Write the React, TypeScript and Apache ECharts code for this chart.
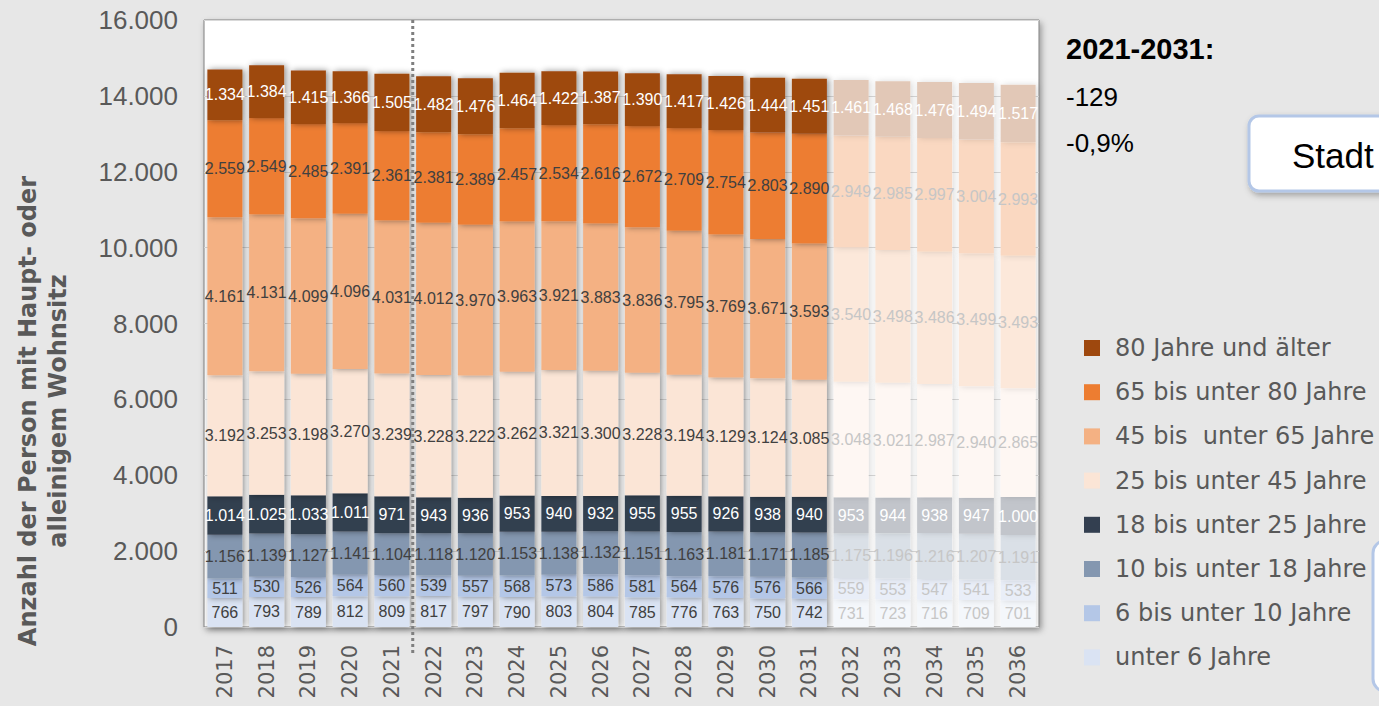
import React, { useEffect, useRef } from "react";
import * as echarts from "echarts";

const years = ["2017","2018","2019","2020","2021","2022","2023","2024","2025","2026","2027","2028","2029","2030","2031","2032","2033","2034","2035","2036"];

// stacking order: bottom to top
const ageGroups = [
  "unter 6 Jahre",
  "6 bis unter 10 Jahre",
  "10 bis unter 18 Jahre",
  "18 bis unter 25 Jahre",
  "25 bis unter 45 Jahre",
  "45 bis  unter 65 Jahre",
  "65 bis unter 80 Jahre",
  "80 Jahre und älter",
];
const colors = ["#DAE3F3", "#B4C7E7", "#8497B0", "#333F50", "#FBE5D6", "#F4B183", "#ED7D31", "#9E480E"];
const labelColors = ["#404040", "#404040", "#404040", "#FFFFFF", "#404040", "#404040", "#404040", "#FFFFFF"];

const under6 = [766,793,789,812,809,817,797,790,803,804,785,776,763,750,742,731,723,716,709,701];
const age6to10 = [511,530,526,564,560,539,557,568,573,586,581,564,576,576,566,559,553,547,541,533];
const age10to18 = [1156,1139,1127,1141,1104,1118,1120,1153,1138,1132,1151,1163,1181,1171,1185,1175,1196,1216,1207,1191];
const age18to25 = [1014,1025,1033,1011,971,943,936,953,940,932,955,955,926,938,940,953,944,938,947,1000];
const age25to45 = [3192,3253,3198,3270,3239,3228,3222,3262,3321,3300,3228,3194,3129,3124,3085,3048,3021,2987,2940,2865];
const age45to65 = [4161,4131,4099,4096,4031,4012,3970,3963,3921,3883,3836,3795,3769,3671,3593,3540,3498,3486,3499,3493];
const age65to80 = [2559,2549,2485,2391,2361,2381,2389,2457,2534,2616,2672,2709,2754,2803,2890,2949,2985,2997,3004,2993];
const age80plus = [1334,1384,1415,1366,1505,1482,1476,1464,1422,1387,1390,1417,1426,1444,1451,1461,1468,1476,1494,1517];

const seriesValues = [under6, age6to10, age10to18, age18to25, age25to45, age45to65, age65to80, age80plus];

const forecastFromYear = "2032";
const dividerBetween = ["2021", "2022"];

const yMin = 0;
const yMax = 16000;
const yInterval = 2000;

const summaryTitle = "2021-2031:";
const summaryAbs = "-129";
const summaryPct = "-0,9%";
const boxText = "Stadt";
const yTitle = "Anzahl der Person mit Haupt- oder\nalleinigem Wohnsitz";

const fmt = (n: number) => String(n).replace(/\B(?=(\d{3})+(?!\d))/g, ".");

// mix a colour with white (as if seen through a white veil)
const fade = (hex: string, keep: number) => {
  const h = hex.replace("#", "");
  const c = [0, 2, 4].map((i) => parseInt(h.slice(i, i + 2), 16));
  const m = c.map((v) => Math.round(v * keep + 255 * (1 - keep)));
  return "rgb(" + m.join(",") + ")";
};

export default function App() {
  const ref = useRef<HTMLDivElement>(null);

  useEffect(() => {
    if (!ref.current) return;
    const chart = echarts.init(ref.current, null, { renderer: "svg" });
    const forecastIdx = years.indexOf(forecastFromYear);

    const series = ageGroups.map((name, si) => ({
      name,
      type: "bar",
      stack: "total",
      barWidth: 35,
      itemStyle: {
        color: colors[si],
        shadowBlur: 6,
        shadowOffsetX: 2,
        shadowColor: "rgba(0,0,0,0.45)",
      },
      label: {
        show: true,
        position: "inside",
        fontFamily: "Liberation Sans",
        fontSize: 16,
        color: labelColors[si],
        formatter: (p: any) => fmt(p.value),
      },
      data: seriesValues[si].map((v, i) =>
        i >= forecastIdx
          ? {
              value: v,
              itemStyle: { color: fade(colors[si], 0.3), shadowColor: "rgba(0,0,0,0.14)" },
              label: { color: labelColors[si] === "#FFFFFF" ? "#FFFFFF" : "#C6C6C6" },
            }
          : v
      ),
    }));

    const legendData = ageGroups.slice().reverse();

    chart.setOption({
      animation: false,
      backgroundColor: "#E7E7E7",
      grid: {
        left: 204,
        right: 340,
        top: 20,
        bottom: 79,
        show: true,
        backgroundColor: "#FFFFFF",
        borderColor: "#7F7F7F",
        borderWidth: 1,
        shadowColor: "rgba(0,0,0,0.35)",
        shadowBlur: 6,
        shadowOffsetX: 2,
        shadowOffsetY: 3,
      },
      xAxis: {
        type: "category",
        data: years,
        axisLine: { show: false },
        axisTick: { show: false },
        axisLabel: {
          rotate: 90,
          margin: 18,
          color: "#595959",
          fontFamily: "DejaVu Sans",
          fontSize: 21,
        },
      },
      yAxis: {
        type: "value",
        min: yMin,
        max: yMax,
        interval: yInterval,
        axisLine: { show: false },
        axisTick: { show: false },
        splitLine: { lineStyle: { color: "#D9D9D9", width: 1 } },
        axisLabel: {
          margin: 26,
          color: "#595959",
          fontFamily: "Liberation Sans",
          fontSize: 26,
          formatter: (v: number) => fmt(v),
        },
      },
      legend: {
        data: legendData,
        orient: "vertical",
        left: 1079,
        top: 331,
        icon: "rect",
        itemWidth: 16,
        itemHeight: 16,
        itemGap: 20.2,
        textStyle: {
          color: "#595959",
          fontFamily: "DejaVu Sans",
          fontSize: 24,
          lineHeight: 24,
          padding: [0, 0, 0, 10],
        },
      },
      series,
    });

    const xa = chart.convertToPixel({ xAxisIndex: 0 }, dividerBetween[0]) as number;
    const xb = chart.convertToPixel({ xAxisIndex: 0 }, dividerBetween[1]) as number;
    const xm = (xa + xb) / 2;
    const yTop = chart.convertToPixel({ yAxisIndex: 0 }, yMax) as number;
    const yZero = chart.convertToPixel({ yAxisIndex: 0 }, yMin) as number;

    chart.setOption({
      graphic: [
        {
          type: "line",
          z: 100,
          shape: { x1: xm, y1: yTop, x2: xm, y2: yZero + 28 },
          style: { stroke: "#7F7F7F", lineWidth: 3, lineDash: [3, 3] },
        },
        {
          type: "text",
          x: 43,
          y: 411,
          rotation: Math.PI / 2,
          style: {
            text: yTitle,
            fill: "#595959",
            font: 'bold 24px "DejaVu Sans"',
            lineHeight: 30,
            align: "center",
            verticalAlign: "middle",
          },
        },
        {
          type: "text",
          x: 1066,
          y: 49,
          style: {
            text: summaryTitle,
            fill: "#000000",
            font: 'bold 29px "Liberation Sans"',
            verticalAlign: "middle",
          },
        },
        {
          type: "text",
          x: 1066,
          y: 97,
          style: {
            text: summaryAbs,
            fill: "#000000",
            font: '26px "Liberation Sans"',
            verticalAlign: "middle",
          },
        },
        {
          type: "text",
          x: 1066,
          y: 143,
          style: {
            text: summaryPct,
            fill: "#000000",
            font: '26px "Liberation Sans"',
            verticalAlign: "middle",
          },
        },
        {
          type: "rect",
          shape: { x: 1249, y: 116, width: 180, height: 75, r: 10 },
          style: {
            fill: "#FFFFFF",
            stroke: "#B4C7E7",
            lineWidth: 3,
            shadowBlur: 6,
            shadowOffsetX: 2,
            shadowOffsetY: 3,
            shadowColor: "rgba(0,0,0,0.3)",
          },
        },
        {
          type: "text",
          x: 1292,
          y: 155,
          style: {
            text: boxText,
            fill: "#000000",
            font: '35px "Liberation Sans"',
            verticalAlign: "middle",
          },
        },
        {
          type: "rect",
          shape: { x: 1373, y: 541, width: 120, height: 150, r: 12 },
          style: {
            fill: "#FFFFFF",
            stroke: "#B4C7E7",
            lineWidth: 3,
          },
        },
      ],
    });

    return () => chart.dispose();
  }, []);

  return (
    <div
      ref={ref}
      style={{ position: "absolute", left: 0, top: 0, width: 1379, height: 706 }}
    />
  );
}
